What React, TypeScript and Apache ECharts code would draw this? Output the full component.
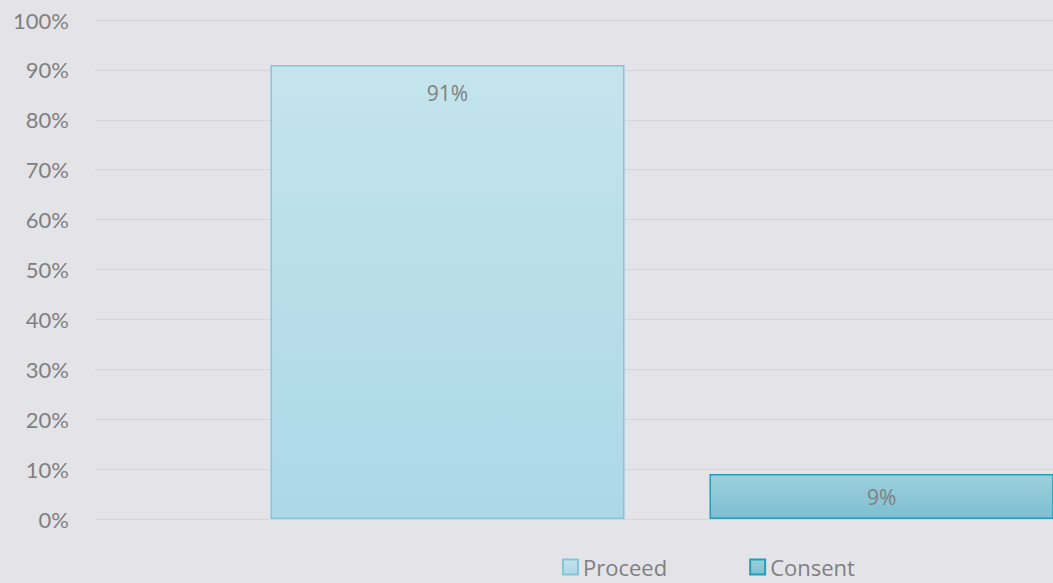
import React, { useEffect, useRef } from "react";
import * as echarts from "echarts";

const categories = [""];
const seriesNames = ["Proceed", "Consent"];
const proceedValues = [91];
const consentValues = [9];
const spacerValues = [0];
const yTicks = [0, 10, 20, 30, 40, 50, 60, 70, 80, 90, 100];

export default function App() {
  const ref = useRef<HTMLDivElement>(null);
  useEffect(() => {
    const chart = echarts.init(ref.current!, undefined, { renderer: "svg" });
    chart.setOption({
      animation: false,
      backgroundColor: "#e4e4e8",
      grid: { left: 95, right: 0, top: 20, bottom: 64 },
      legend: {
        bottom: 0,
        left: 557,
        itemWidth: 15,
        itemHeight: 15,
        itemGap: 82,
        icon: "rect",
        textStyle: { color: "#7f7f7f", fontSize: 22, fontFamily: "Open Sans" },
        data: seriesNames,
      },
      xAxis: {
        type: "category",
        data: categories,
        axisLine: { show: false },
        axisTick: { show: false },
        axisLabel: { show: false },
      },
      yAxis: {
        type: "value",
        min: yTicks[0],
        max: yTicks[yTicks.length - 1],
        interval: 10,
        axisLabel: {
          formatter: "{value}%",
          color: "#808080",
          fontSize: 22,
          fontFamily: "Lato",
          margin: 26,
        },
        splitLine: { lineStyle: { color: "#d6d6d8", width: 1 } },
        axisLine: { show: false },
        axisTick: { show: false },
      },
      series: [
        {
          name: "spacer",
          type: "bar",
          data: spacerValues,
          barWidth: 150,
          barGap: "24%",
          itemStyle: { color: "rgba(0,0,0,0)" },
          silent: true,
          label: { show: false },
        },
        {
          name: seriesNames[0],
          type: "bar",
          data: proceedValues,
          barWidth: 354,
          barGap: "24%",
          itemStyle: {
            color: new echarts.graphic.LinearGradient(0, 0, 0, 1, [
              { offset: 0, color: "#c4e4ed" },
              { offset: 1, color: "#acd8e6" },
            ]),
            borderColor: "#86c5d6",
            borderWidth: 1.5,
          },
          label: {
            show: true,
            position: "insideTop",
            distance: 18,
            formatter: "{c}%",
            color: "#808080",
            fontSize: 21,
            fontFamily: "Open Sans",
          },
        },
        {
          name: seriesNames[1],
          type: "bar",
          data: consentValues,
          barWidth: 354,
          barGap: "24%",
          itemStyle: {
            color: new echarts.graphic.LinearGradient(0, 0, 0, 1, [
              { offset: 0, color: "#9dd0dd" },
              { offset: 1, color: "#7dbfd1" },
            ]),
            borderColor: "#1fa0b4",
            borderWidth: 1.5,
          },
          label: {
            show: true,
            position: "inside",
            formatter: "{c}%",
            color: "#808080",
            fontSize: 21,
            fontFamily: "Open Sans",
          },
        },
      ],
    });
    return () => chart.dispose();
  }, []);
  return <div ref={ref} style={{ width: 1053, height: 583, position: "absolute", left: 0, top: 0 }} />;
}
